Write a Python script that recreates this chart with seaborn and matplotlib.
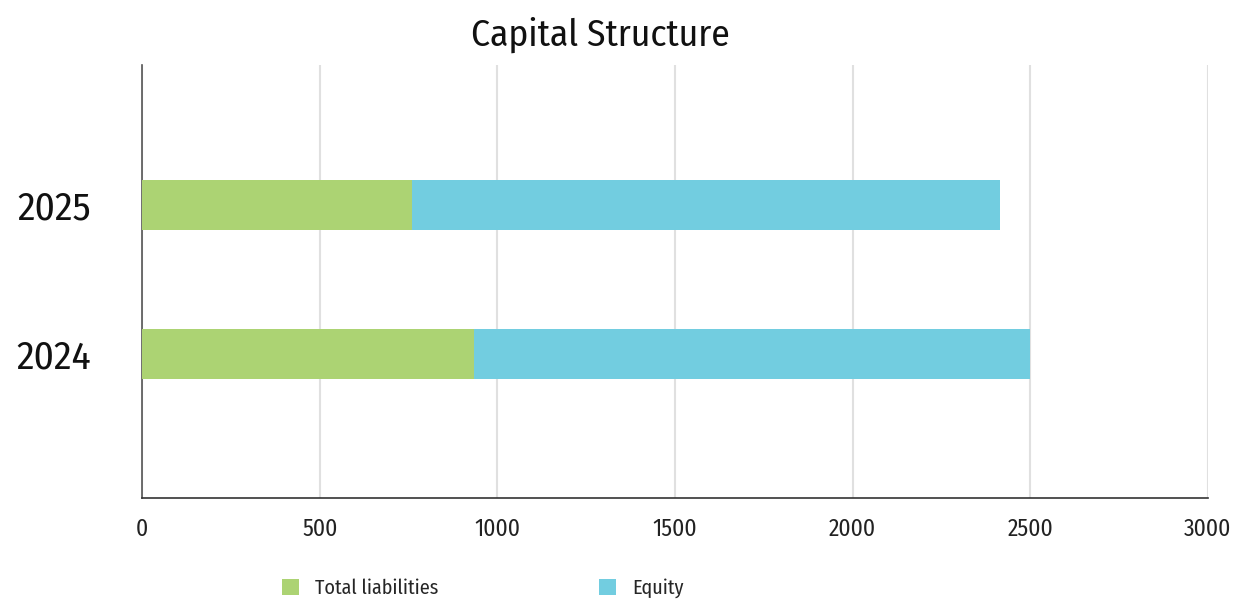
import matplotlib
matplotlib.use("Agg")
import matplotlib.pyplot as plt
import seaborn as sns
import pandas as pd
from matplotlib.patches import Patch
from matplotlib import font_manager

years = ["2025", "2024"]
liabilities = [761, 934]
equity = [1653, 1566]
x_ticks = [0, 500, 1000, 1500, 2000, 2500, 3000]
series_names = ["Total liabilities", "Equity"]
colors = ["#acd373", "#72cde0"]

sns.set_theme(style="white")
avail = {f.name for f in font_manager.fontManager.ttflist}
main = "Roboto"
for cand in ["Fira Sans Condensed", "Encode Sans Condensed", "Roboto Condensed", "PT Sans Narrow"]:
    if cand in avail:
        main = cand
        break
plt.rcParams["font.family"] = [main, "DejaVu Sans"]

df = pd.DataFrame({"year": years, "liab": liabilities,
                   "total": [l + e for l, e in zip(liabilities, equity)]})

fig = plt.figure(figsize=(12.33, 6), dpi=100)
ax = fig.add_axes([142/1233, 1 - 498/600, (1208-142)/1233, (498-65)/600])

sns.barplot(data=df, x="total", y="year", order=years, color=colors[1],
            width=0.336, saturation=1, ax=ax, zorder=3, linewidth=0)
sns.barplot(data=df, x="liab", y="year", order=years, color=colors[0],
            width=0.336, saturation=1, ax=ax, zorder=4, linewidth=0)

ax.set_xlim(0, 3000)
ax.set_ylim(1.966, -0.94)
ax.set_xticks(x_ticks)
ax.set_xticklabels([str(t) for t in x_ticks], fontsize=17, color="#222222")
ax.tick_params(axis="x", direction="in", length=8, width=1.2, color="#bbbbbb", pad=14)
ax.tick_params(axis="y", length=0, pad=37, labelsize=28.5, labelcolor="#111111")
ax.set_xlabel("")
ax.set_ylabel("")
ax.grid(axis="x", color="#e0e0e0", linewidth=1.5, zorder=0)
ax.set_axisbelow(True)
for s in ["top", "right"]:
    ax.spines[s].set_visible(False)
ax.spines["left"].set_color("#555555")
ax.spines["left"].set_linewidth(1.2)
ax.spines["bottom"].set_color("#333333")
ax.spines["bottom"].set_linewidth(1.2)

fig.text(600/1233, 1 - 35/600, "Capital Structure", ha="center", va="center",
         fontsize=27, color="#111111")

handles = [Patch(facecolor=c, edgecolor="none") for c in colors]
fig.legend(handles, series_names, loc="center left", bbox_to_anchor=(282/1233, 1 - 588/600),
           ncol=2, frameon=False, fontsize=14.5, handlelength=0.83, handleheight=0.83,
           handletextpad=0.8, columnspacing=8.0, borderaxespad=0, borderpad=0)

fig.savefig("out.png", dpi=100)
